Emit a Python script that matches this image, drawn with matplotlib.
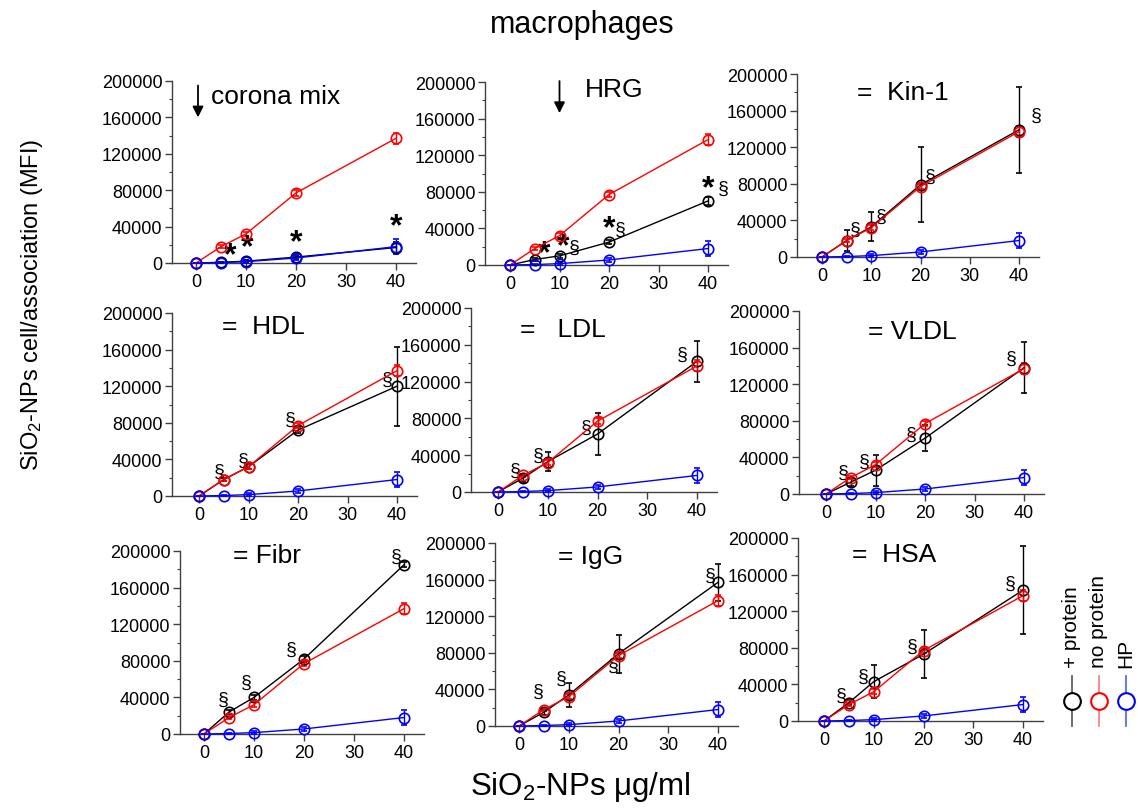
import matplotlib
matplotlib.use("Agg")
import matplotlib.pyplot as plt
from matplotlib.lines import Line2D
from matplotlib.ticker import MultipleLocator

plt.rcParams['font.family'] = ['Liberation Sans', 'DejaVu Sans']
plt.rcParams['mathtext.fontset'] = 'custom'
plt.rcParams['mathtext.rm'] = 'Liberation Sans'
plt.rcParams['mathtext.it'] = 'Liberation Sans'

# SiO2-NP concentration (ug/ml)
conc = [0, 5, 10, 20, 40]

# reference series shared by every panel
no_protein = [0, 18000, 32000, 77000, 137000]
no_protein_err = [0, 2000, 2500, 3000, 6000]
hp = [0, 500, 1500, 5500, 18000]
hp_err = [0, 1000, 1500, 2500, 8000]

# "+ protein" series, one per pre-coating protein
corona_mix = [0, 800, 2000, 6500, 17000]
corona_mix_err = [0, 800, 1200, 2500, 6000]
hrg = [0, 6000, 10000, 25000, 70000]
hrg_err = [0, 1500, 2000, 2500, 4000]
kin1 = [0, 18000, 33000, 79000, 139000]
kin1_err = [0, 11000, 16000, 41000, 47000]
hdl = [0, 18000, 32000, 72000, 120000]
hdl_err = [0, 2000, 2500, 3000, 43000]
ldl = [0, 15000, 33000, 63000, 142000]
ldl_err = [0, 4000, 10000, 23000, 22000]
vldl = [0, 13000, 26000, 61000, 138000]
vldl_err = [0, 4000, 17000, 14000, 28000]
fibr = [0, 24000, 40000, 82000, 185000]
fibr_err = [0, 2000, 2500, 3000, 3000]
igg = [0, 15000, 34000, 79000, 157000]
igg_err = [0, 3000, 13000, 21000, 20000]
hsa = [0, 20000, 43000, 73000, 143000]
hsa_err = [0, 3000, 18000, 26000, 48000]

titles = ["corona mix", "HRG", "=  Kin-1", "=  HDL", "=   LDL", "= VLDL",
          "= Fibr", "= IgG", "=  HSA"]
title_pos = [(16, 184000), (21, 192000), (16.5, 180000), (13, 186000),
             (13, 177000), (17.5, 178000), (12.6, 196000), (14.3, 186000),
             (14, 183000)]
protein_series = [corona_mix, hrg, kin1, hdl, ldl, vldl, fibr, igg, hsa]
protein_errs = [corona_mix_err, hrg_err, kin1_err, hdl_err, ldl_err,
                vldl_err, fibr_err, igg_err, hsa_err]

# significance marks: (x, y, text)
marks = [
    [(6.8, 9000, "*"), (10.2, 17500, "*"), (20, 23000, "*"), (40, 40000, "*")],
    [(7, 13000, "*"), (10.7, 20500, "*"), (13, 19500, "§"), (20, 40000, "*"),
     (22.3, 39000, "§"), (40, 84000, "*"), (43, 84000, "§")],
    [(6.8, 30000, "§"), (12, 45000, "§"), (22, 88000, "§"), (43.5, 155000, "§")],
    [(4, 27000, "§"), (9, 39000, "§"), (18.5, 84000, "§"), (38, 127000, "§")],
    [(3.5, 24000, "§"), (8, 40000, "§"), (17.8, 70000, "§"), (37, 150000, "§")],
    [(3.5, 24000, "§"), (7.8, 36000, "§"), (17.3, 65000, "§"), (37.5, 148000, "§")],
    [(3.8, 38000, "§"), (8.5, 56000, "§"), (17.5, 93000, "§"), (38.5, 194000, "§")],
    [(3.8, 38000, "§"), (8.5, 52000, "§"), (19, 66000, "§"), (38.5, 165000, "§")],
    [(3.5, 28000, "§"), (7.8, 49000, "§"), (17.7, 82000, "§"), (37.5, 151000, "§")],
]
# arrows (x, y_start, y_end)
arrows = {0: (0.4, 195000, 160000), 1: (10, 201000, 166000)}

# axes placement in pixels: spine x, x of value 0, x of value 40, y of 0, y of 200000
layout = [
    (172, 196, 396, 264, 82), (485, 510, 708, 266, 83), (797, 822, 1019, 258, 75),
    (172, 199, 397, 497, 314), (471, 498, 697, 493, 309), (799, 826, 1024, 495, 312),
    (180, 204, 404, 735, 552), (495, 519, 718, 727, 544), (798, 824, 1023, 722, 539),
]

W, H = 1138, 812
fig = plt.figure(figsize=(W / 100, H / 100), dpi=100)

BLACK, RED, BLUE = "#000000", "#ff0000", "#0000ff"
XMAX = 44
spine_col = "#404040"

for i in range(9):
    sx, x0, x40, y0, ytop = layout[i]
    ppu = (x40 - x0) / 40.0
    xmin = -(x0 - sx) / ppu
    right = x0 + XMAX * ppu
    ax = fig.add_axes([sx / W, 1 - y0 / H, (right - sx) / W, (y0 - ytop) / H])
    ax.set_xlim(xmin, XMAX)
    ax.set_ylim(0, 200000)
    for s in ("top", "right"):
        ax.spines[s].set_visible(False)
    for s in ("left", "bottom"):
        ax.spines[s].set_color(spine_col)
        ax.spines[s].set_linewidth(1.0)
    ax.set_xticks([0, 10, 20, 30, 40])
    ax.set_yticks(range(0, 200001, 40000))
    ax.yaxis.set_minor_locator(MultipleLocator(20000))
    ax.tick_params(axis="both", which="major", direction="out", length=5,
                   width=1, color=spine_col, labelsize=13, pad=2)
    ax.tick_params(axis="y", which="minor", direction="out", length=2.5,
                   width=0.8, color=spine_col)
    ax.tick_params(axis="x", which="minor", length=0)

    for vals, errs, col in ((protein_series[i], protein_errs[i], BLACK),
                            (no_protein, no_protein_err, RED),
                            (hp, hp_err, BLUE)):
        ax.errorbar(conc, vals, yerr=errs, color=col, lw=1.0, elinewidth=1.0,
                    capsize=2.5, capthick=1.0, marker="o", markersize=7.5,
                    markerfacecolor="none", markeredgecolor=col,
                    markeredgewidth=1.2, clip_on=False, zorder=3)

    tx, ty = title_pos[i]
    ax.text(tx, ty, titles[i], ha="center", va="center", fontsize=19)
    for mx, my, mt in marks[i]:
        if mt == "*":
            ax.text(mx, my, mt, ha="center", va="center", fontsize=23,
                    fontweight="bold", clip_on=False)
        else:
            ax.text(mx, my, mt, ha="center", va="center", fontsize=14,
                    clip_on=False)
    if i in arrows:
        axx, ya, yb = arrows[i]
        ax.annotate("", xy=(axx, yb), xytext=(axx, ya),
                    arrowprops=dict(arrowstyle="-|>", color="k", lw=1.3,
                                    mutation_scale=16, shrinkA=0, shrinkB=0),
                    annotation_clip=False)

# overlay in pixel units for the figure-level texts and the legend
ov = fig.add_axes([0, 0, 1, 1])
ov.set_xlim(0, W)
ov.set_ylim(H, 0)
ov.axis("off")
ov.patch.set_alpha(0)

ov.text(582, 25, "macrophages", ha="center", va="center", fontsize=22)
ov.text(32, 305, r"SiO$_\mathregular{2}$-NPs cell/association (MFI)",
        rotation=90, ha="center", va="center", fontsize=17)
ov.text(580, 787, "SiO$_\\mathregular{2}$-NPs \u03bcg/ml", ha="center",
        va="center", fontsize=22.5)

legend_items = [("+ protein", "#000000", "#606060", 1072),
                ("no protein", "#ff0000", "#ff8080", 1099),
                ("HP", "#0000ff", "#5a6cff", 1126)]
for label, col, lcol, lx in legend_items:
    ov.add_line(Line2D([lx, lx], [677, 727], color=lcol, lw=1.3))
    ov.add_line(Line2D([lx], [702], marker="o", markersize=12,
                       markerfacecolor="white", markeredgecolor=col,
                       markeredgewidth=1.5))
    ov.text(lx, 668, label, rotation=90, ha="center", va="bottom", fontsize=15)

fig.savefig("out.png", dpi=100)
